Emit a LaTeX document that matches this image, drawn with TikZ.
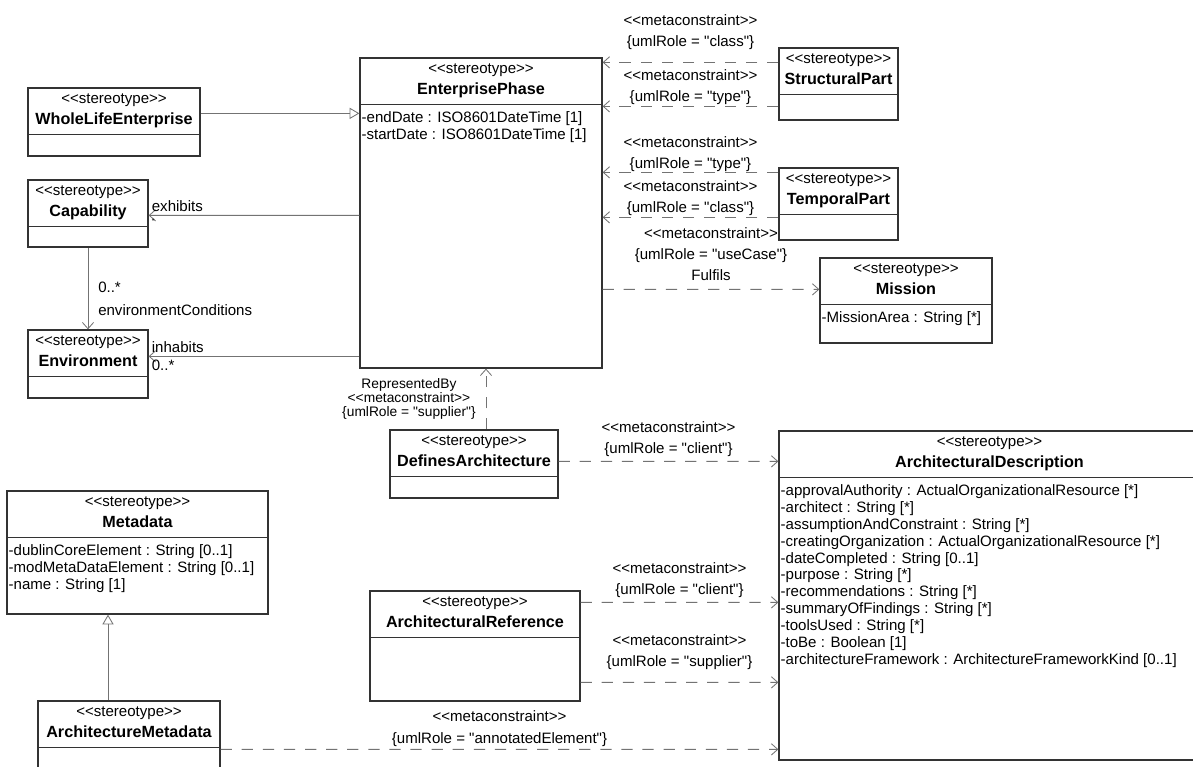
\documentclass[tikz,border=0pt]{standalone}
\usepackage{fontspec}
\setmainfont{Liberation Sans}[Ligatures=TeXOff]
\usepackage{tikz}
\usetikzlibrary{arrows.meta, positioning, calc, fit}
\tikzset{
    classbox/.style = {draw=black!80, line width=0.9pt, inner sep=0pt},
    stereo/.style = {font=\fontsize{10.7}{12}\selectfont, inner sep=0pt, text height=0.72em, text depth=0.21em},
    classname/.style = {font=\fontsize{11.5}{13}\selectfont\bfseries, inner sep=0pt, text height=0.72em, text depth=0.21em},
    attrs/.style = {font=\fontsize{10.7}{12}\selectfont, align=left, anchor=north west, inner sep=0pt},
    lbl/.style = {font=\fontsize{10.7}{15}\selectfont, inner sep=2pt},
    mc/.style = {lbl, midway, align=center, inner sep=0pt},
    tight/.style = {lbl, align=center, font=\fontsize{9.8}{10}\selectfont},
    assoc/.style = {draw=black!55, line width=0.6pt, -{Straight Barb[length=4.5pt,width=8pt]}},
    dep/.style = {assoc, dash pattern=on 8pt off 7pt},
    gen/.style = {draw=black!55, line width=0.6pt, -{Triangle[open, length=7pt, width=8pt]}}
}
% name, top left, bottom right, class name, attributes
\newcommand{\umlclass}[5]{%
  \node[classbox, fit={#2 #3}] (#1) {};
  \draw[classbox] ($(#1.north west)+(0,47)$) -- ($(#1.north east)+(0,47)$);
  \node[stereo] (#1-st) at ($(#1.north)+(0,13)$) {<<stereotype>>};
  \node[classname] (#1-name) at ($(#1.north)+(0,34)$) {#4};
  \node[attrs] (#1-attr) at ($(#1.north west)+(2,54)$) {#5};
}

\begin{document}
\begin{tikzpicture}[x=0.025cm, y=-0.025cm]
\useasboundingbox (0,0) rectangle (1193,767);
\clip (0,0) rectangle (1193,767);

% ---- Classes (left column) ----
\umlclass{wle}{(28,88)}{(200,156)}{WholeLifeEnterprise}{}
\umlclass{cap}{(28,180)}{(148,247)}{Capability}{}
\umlclass{env}{(28,330)}{(148,398)}{Environment}{}
\umlclass{md}{(7,491)}{(268,614)}{Metadata}{-dublinCoreElement : String [0..1]\\-modMetaDataElement : String [0..1]\\-name : String [1]}
\umlclass{am}{(38,701)}{(220,775)}{ArchitectureMetadata}{}

% ---- Classes (middle) ----
\umlclass{ep}{(360,58)}{(602,368)}{EnterprisePhase}{-endDate : ISO8601DateTime [1]\\-startDate : ISO8601DateTime [1]}
\umlclass{da}{(390,430)}{(558,498)}{DefinesArchitecture}{}
\umlclass{ar}{(370,591)}{(580,701)}{ArchitecturalReference}{}

% ---- Classes (right) ----
\umlclass{sp}{(779,48)}{(898,120)}{StructuralPart}{}
\umlclass{tp}{(779,168)}{(898,240)}{TemporalPart}{}
\umlclass{ms}{(820,258)}{(992,343)}{Mission}{-MissionArea : String [*]}
\umlclass{ad}{(779,431)}{(1200,760)}{ArchitecturalDescription}{-approvalAuthority : ActualOrganizationalResource [*]\\-architect : String [*]\\-assumptionAndConstraint : String [*]\\-creatingOrganization : ActualOrganizationalResource [*]\\-dateCompleted : String [0..1]\\-purpose : String [*]\\-recommendations : String [*]\\-summaryOfFindings : String [*]\\-toolsUsed : String [*]\\-toBe : Boolean [1]\\-architectureFramework : ArchitectureFrameworkKind [0..1]}

% ---- Generalizations ----
\draw[gen] ($(wle.north east)+(0,26)$) -- ($(ep.north west)+(0,56)$);
\draw[gen] ($(am.north)+(-21,0)$) -- ($(md.south)+(-29.5,0)$);

% ---- Associations ----
\draw[assoc] ($(ep.north west)+(0,158)$) -- ($(cap.north east)+(0,36)$)
  node[lbl, at end, anchor=south west] {exhibits}
  node[lbl, at end, anchor=north west, font=\tiny] {*};
\draw[assoc] ($(ep.north west)+(0,299)$) -- ($(env.north east)+(0,27)$)
  node[lbl, at end, anchor=south west] {inhabits}
  node[lbl, at end, anchor=north west] {0..*};
\draw[assoc] (cap.south) -- (env.north)
  node[lbl, pos=0.48, right=5pt] {0..*}
  node[lbl, pos=0.77, right=5pt] {environmentConditions};

% ---- Metaconstraints ----
\draw[dep] ($(sp.north west)+(0,15)$) -- ($(ep.north east)+(0,5)$)
  node[mc, above=9pt] {<<metaconstraint>>\\\{umlRole = "class"\}};
\draw[dep] ($(sp.north west)+(0,59)$) -- ($(ep.north east)+(0,49)$)
  node[mc, above=0.7pt] {<<metaconstraint>>\\\{umlRole = "type"\}};
\draw[dep] ($(tp.north west)+(0,5)$) -- ($(ep.north east)+(0,115)$)
  node[mc, above=0pt] {<<metaconstraint>>\\\{umlRole = "type"\}};
\draw[dep] ($(tp.north west)+(0,50)$) -- ($(ep.north east)+(0,160)$)
  node[mc, above=0.7pt] {<<metaconstraint>>\\\{umlRole = "class"\}};
\draw[dep] ($(ep.north east)+(0,232)$) -- ($(ms.north west)+(0,32)$)
  node[mc, above=6pt] {<<metaconstraint>>\\\{umlRole = "useCase"\}\\Fulfils};
\draw[dep] ($(da.north)+(12,0)$) -- ($(ep.south)+(5,0)$)
  node[tight, midway, left=5pt] {RepresentedBy\\<<metaconstraint>>\\\{umlRole = "supplier"\}};
\draw[dep] ($(da.north east)+(0,32)$) -- ($(ad.north west)+(0,31)$)
  node[mc, above=2.8pt] {<<metaconstraint>>\\\{umlRole = "client"\}};
\draw[dep] ($(ar.north east)+(0,12)$) -- ($(ad.north west)+(0,172)$)
  node[mc, above=2.8pt] {<<metaconstraint>>\\\{umlRole = "client"\}};
\draw[dep] ($(ar.north east)+(0,92)$) -- ($(ad.north west)+(0,252)$)
  node[mc, above=8.5pt] {<<metaconstraint>>\\\{umlRole = "supplier"\}};
\draw[dep] ($(am.north east)+(0,49)$) -- ($(ad.north west)+(0,319)$)
  node[mc, above=2pt] {<<metaconstraint>>\\\{umlRole = "annotatedElement"\}};

\end{tikzpicture}
\end{document}
